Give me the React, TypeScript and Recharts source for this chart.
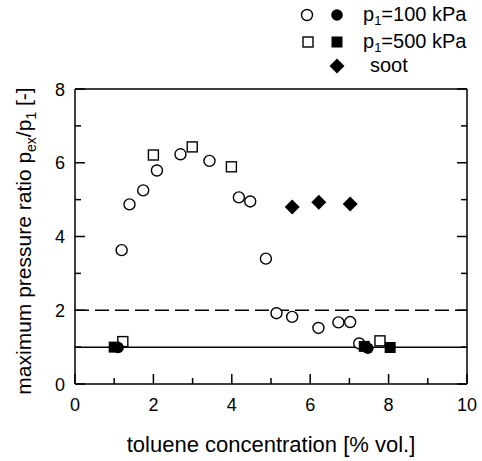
import { ScatterChart, Scatter, XAxis, YAxis, ReferenceLine, Label } from 'recharts';

// values: toluene concentration [% vol.] vs p_ex/p_1
const open100kPa = [
  { x: 1.19, y: 3.63 },
  { x: 1.39, y: 4.87 },
  { x: 1.74, y: 5.25 },
  { x: 2.09, y: 5.79 },
  { x: 2.69, y: 6.23 },
  { x: 3.43, y: 6.05 },
  { x: 4.18, y: 5.06 },
  { x: 4.47, y: 4.95 },
  { x: 4.87, y: 3.4 },
  { x: 5.14, y: 1.92 },
  { x: 5.54, y: 1.82 },
  { x: 6.21, y: 1.52 },
  { x: 6.72, y: 1.67 },
  { x: 7.02, y: 1.68 },
  { x: 7.25, y: 1.1 },
];
const filled100kPa = [
  { x: 1.1, y: 0.99 },
  { x: 7.47, y: 0.97 },
];
const open500kPa = [
  { x: 2.0, y: 6.21 },
  { x: 2.99, y: 6.43 },
  { x: 3.99, y: 5.89 },
  { x: 1.22, y: 1.15 },
  { x: 7.78, y: 1.17 },
];
const filled500kPa = [
  { x: 1.0, y: 1.0 },
  { x: 7.38, y: 1.02 },
  { x: 8.04, y: 0.99 },
];
const soot = [
  { x: 5.54, y: 4.8 },
  { x: 6.22, y: 4.93 },
  { x: 7.02, y: 4.88 },
];

const xTicks = [0, 1, 2, 3, 4, 5, 6, 7, 8, 9, 10];
const yTicks = [0, 1, 2, 3, 4, 5, 6, 7, 8];
const dashedLevel = 2;
const solidLevel = 1;

const FONT = '"Liberation Sans", Arial, Helvetica, sans-serif';
const PLOT = { left: 75, right: 467, top: 89, bottom: 384 };
const INK = '#000';

const OpenCircle = ({ cx, cy }: any) => <circle cx={cx} cy={cy} r={5.5} fill="#fff" stroke={INK} strokeWidth={1.4} />;
const FilledCircle = ({ cx, cy }: any) => <circle cx={cx} cy={cy} r={5.8} fill={INK} />;
const OpenSquare = ({ cx, cy }: any) => (
  <rect x={cx - 5} y={cy - 5} width={10} height={10} fill="#fff" stroke={INK} strokeWidth={1.4} />
);
const FilledSquare = ({ cx, cy }: any) => <rect x={cx - 5.5} y={cy - 5.5} width={11} height={11} fill={INK} />;
const Diamond = ({ cx, cy }: any) => (
  <polygon points={`${cx},${cy - 7.5} ${cx + 7.5},${cy} ${cx},${cy + 7.5} ${cx - 7.5},${cy}`} fill={INK} />
);

const BottomTick = ({ x, payload }: any) => {
  const major = payload.value % 2 === 0;
  return (
    <g>
      <line x1={x} x2={x} y1={PLOT.bottom} y2={PLOT.bottom - (major ? 10 : 6)} stroke={INK} strokeWidth={1.5} />
      {major && (
        <text x={x} y={411} textAnchor="middle" fontSize={18} fontFamily={FONT} fill={INK}>
          {payload.value}
        </text>
      )}
    </g>
  );
};

const TopTick = ({ x, payload }: any) => {
  const major = payload.value % 2 === 0;
  return <line x1={x} x2={x} y1={PLOT.top} y2={PLOT.top + (major ? 10 : 6)} stroke={INK} strokeWidth={1.5} />;
};

const LeftTick = ({ y, payload }: any) => {
  const major = payload.value % 2 === 0;
  return (
    <g>
      <line x1={PLOT.left} x2={PLOT.left + (major ? 10 : 6)} y1={y} y2={y} stroke={INK} strokeWidth={1.5} />
      {major && (
        <text x={65} y={y + 6.5} textAnchor="end" fontSize={18} fontFamily={FONT} fill={INK}>
          {payload.value}
        </text>
      )}
    </g>
  );
};

const RightTick = ({ y, payload }: any) => {
  const major = payload.value % 2 === 0;
  return <line x1={PLOT.right} x2={PLOT.right - (major ? 10 : 6)} y1={y} y2={y} stroke={INK} strokeWidth={1.5} />;
};

const XTitle = ({ viewBox }: any) => (
  <text x={viewBox.x + viewBox.width / 2} y={452} textAnchor="middle" fontSize={22} fontFamily={FONT} fill={INK}>
    toluene concentration [% vol.]
  </text>
);

const YTitle = () => (
  <text transform="rotate(-90)" x={-241} y={31} textAnchor="middle" fontSize={21} fontFamily={FONT} fill={INK}>
    maximum pressure ratio p
    <tspan dy={5} fontSize={14}>ex</tspan>
    <tspan dy={-5}>/p</tspan>
    <tspan dy={5} fontSize={14}>1</tspan>
    <tspan dy={-5}> [-]</tspan>
  </text>
);

function LegendBox() {
  return (
    <svg
      width={482}
      height={80}
      style={{ position: 'absolute', left: 0, top: 0, pointerEvents: 'none' }}
      fontFamily={FONT}
    >
      <OpenCircle cx={307} cy={15} />
      <FilledCircle cx={337} cy={15} />
      <text x={363} y={21} fontSize={20} fill={INK}>
        p<tspan dy={4} fontSize={13}>1</tspan>
        <tspan dy={-4}>=100 kPa</tspan>
      </text>
      <OpenSquare cx={308} cy={42} />
      <FilledSquare cx={337} cy={42} />
      <text x={363} y={48} fontSize={20} fill={INK}>
        p<tspan dy={4} fontSize={13}>1</tspan>
        <tspan dy={-4}>=500 kPa</tspan>
      </text>
      <Diamond cx={337} cy={66} />
      <text x={370} y={72} fontSize={20} fill={INK}>
        soot
      </text>
    </svg>
  );
}

export default function App() {
  return (
    <div style={{ position: 'absolute', left: 0, top: 0, width: 482, height: 461, background: '#fff' }}>
      <ScatterChart width={482} height={461} margin={{ top: 88, right: 14, bottom: 47, left: 35 }}>
        <XAxis
          type="number"
          dataKey="x"
          domain={[0, 10]}
          ticks={xTicks}
          allowDataOverflow
          height={30}
          axisLine={{ stroke: INK, strokeWidth: 1.5 }}
          tickLine={false}
          tick={<BottomTick />}
        >
          <Label content={<XTitle />} />
        </XAxis>
        <XAxis
          xAxisId="top"
          orientation="top"
          type="number"
          domain={[0, 10]}
          ticks={xTicks}
          allowDataOverflow
          height={1}
          axisLine={{ stroke: INK, strokeWidth: 1.5 }}
          tickLine={false}
          tick={<TopTick />}
        />
        <YAxis
          type="number"
          dataKey="y"
          domain={[0, 8]}
          ticks={yTicks}
          allowDataOverflow
          width={40}
          axisLine={{ stroke: INK, strokeWidth: 1.5 }}
          tickLine={false}
          tick={<LeftTick />}
        >
          <Label content={<YTitle />} />
        </YAxis>
        <YAxis
          yAxisId="right"
          orientation="right"
          type="number"
          domain={[0, 8]}
          ticks={yTicks}
          allowDataOverflow
          width={1}
          axisLine={{ stroke: INK, strokeWidth: 1.5 }}
          tickLine={false}
          tick={<RightTick />}
        />
        <ReferenceLine y={dashedLevel} stroke={INK} strokeWidth={1.5} strokeDasharray="14 6" />
        <ReferenceLine y={solidLevel} stroke={INK} strokeWidth={1.5} />
        <Scatter data={open100kPa} shape={OpenCircle} isAnimationActive={false} />
        <Scatter data={open500kPa} shape={OpenSquare} isAnimationActive={false} />
        <Scatter data={filled500kPa} shape={FilledSquare} isAnimationActive={false} />
        <Scatter data={filled100kPa} shape={FilledCircle} isAnimationActive={false} />
        <Scatter data={soot} shape={Diamond} isAnimationActive={false} />
      </ScatterChart>
      <LegendBox />
    </div>
  );
}
